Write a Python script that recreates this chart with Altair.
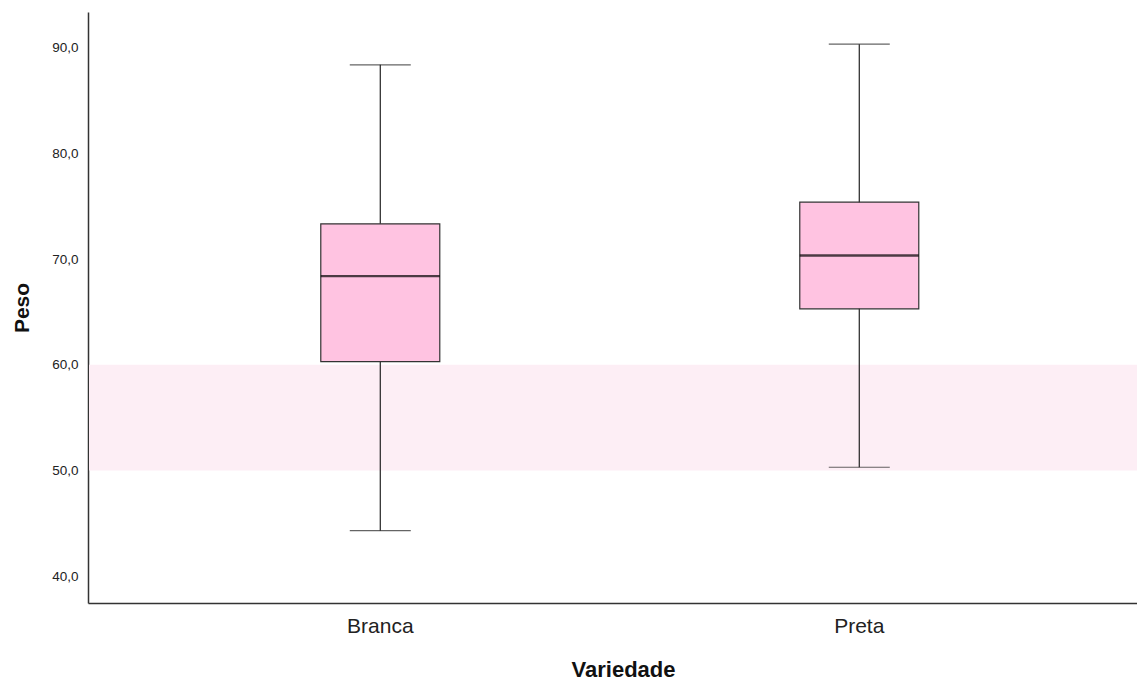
import altair as alt
import pandas as pd

categories = ["Branca", "Preta"]
mins = [44.3, 50.3]
q1s = [60.3, 65.3]
medians = [68.4, 70.35]
q3s = [73.35, 75.4]
maxs = [88.4, 90.35]
band_low = [50.0]
band_high = [60.0]
y_ticks = [40, 50, 60, 70, 80, 90]

df = pd.DataFrame({
    "Variedade": categories,
    "min": mins, "q1": q1s, "median": medians, "q3": q3s, "max": maxs,
})
band_df = pd.DataFrame({"lo": band_low, "hi": band_high})

W, H = 1049, 591
FONT = "Liberation Sans"

xscale = alt.Scale(domain=categories, paddingInner=0, paddingOuter=0.095, align=0.58)
yscale = alt.Scale(domain=[37.45, 93.4], nice=False, zero=False)

xenc = alt.X("Variedade:N", scale=xscale, sort=categories,
             axis=alt.Axis(title="Variedade", labelAngle=0, ticks=False, tickSize=0,
                           labelFontSize=21, labelFont=FONT, labelColor="#222",
                           labelPadding=12, titleFontSize=22, titleFont=FONT,
                           titleFontWeight="bold", titleColor="#111",
                           titleBaseline="alphabetic", titleY=73, titleX=535,
                           domainColor="#333", domainWidth=1.5, grid=False))

yaxis = alt.Axis(title="Peso", values=y_ticks, ticks=False, tickSize=0,
                 labelExpr="replace(format(datum.value, '.1f'), '.', ',')",
                 labelFontSize=13.5, labelFont=FONT, labelColor="#222",
                 labelPadding=10, titleFontSize=21, titleFont=FONT,
                 titleFontWeight="bold", titleColor="#111",
                 titleBaseline="alphabetic", titleX=-60,
                 domainColor="#333", domainWidth=1.5, grid=False)

band = alt.Chart(band_df).mark_rect(color="#FDEEF5").encode(
    x=alt.value(1), x2=alt.value(W),
    y=alt.Y("lo:Q", scale=yscale, axis=yaxis), y2="hi:Q",
)

base = alt.Chart(df)

whisker = base.mark_rule(color="#222", strokeWidth=1.2).encode(
    x=xenc, y=alt.Y("min:Q", scale=yscale), y2="max:Q")

box = base.mark_bar(size=119, fill="#FFC3E1", stroke="#333", strokeWidth=1.2).encode(
    x=alt.X("Variedade:N", scale=xscale, sort=categories),
    y=alt.Y("q1:Q", scale=yscale), y2="q3:Q")

median = base.mark_tick(size=119, thickness=2.4, color="#000").encode(
    x=alt.X("Variedade:N", scale=xscale, sort=categories),
    y=alt.Y("median:Q", scale=yscale))

cap_lo = base.mark_tick(size=61, thickness=1.2, color="#222").encode(
    x=alt.X("Variedade:N", scale=xscale, sort=categories),
    y=alt.Y("min:Q", scale=yscale))

cap_hi = base.mark_tick(size=61, thickness=1.2, color="#222").encode(
    x=alt.X("Variedade:N", scale=xscale, sort=categories),
    y=alt.Y("max:Q", scale=yscale))

chart = alt.layer(band, whisker, box, median, cap_lo, cap_hi).properties(
    width=W, height=H,
    background="white",
    autosize=alt.AutoSizeParams(type="none"),
    padding={"left": 80, "top": 4, "right": 0, "bottom": 78},
).configure_view(stroke="transparent", strokeWidth=0)

chart.save("out.html", embed_options={"renderer": "svg", "actions": False})
